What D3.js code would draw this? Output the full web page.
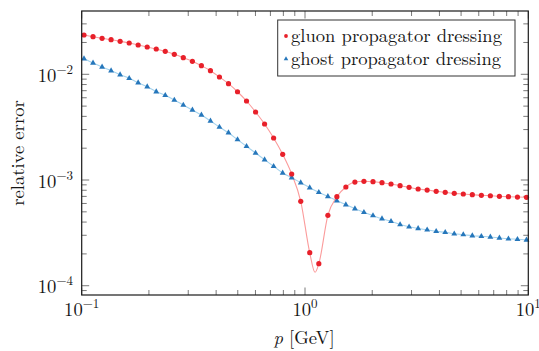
<!DOCTYPE html>
<html><head><meta charset="utf-8">
<script src="https://cdn.jsdelivr.net/npm/d3@7"></script>
<style>body{margin:0;background:#fff} svg{display:block}</style>
</head><body>
<svg id="c" width="539" height="351"></svg>
<script>
// ---- data ----
const momenta = [0.1024, 0.1124, 0.1234, 0.1354, 0.1486, 0.1632, 0.1790, 0.1965, 0.2157, 0.2367,
  0.2599, 0.2851, 0.3131, 0.3436, 0.3772, 0.4139, 0.4543, 0.4986, 0.5472, 0.6007,
  0.6592, 0.7236, 0.7943, 0.8717, 0.9570, 1.050, 1.153, 1.266, 1.389, 1.524,
  1.673, 1.836, 2.016, 2.212, 2.428, 2.666, 2.925, 3.211, 3.524, 3.868,
  4.246, 4.660, 5.115, 5.614, 6.163, 6.763, 7.422, 8.147, 8.942, 9.815];
const gluonError = [0.02354, 0.02269, 0.02191, 0.02125, 0.02052, 0.01977, 0.01893, 0.01812, 0.01735, 0.01651,
  0.01546, 0.01436, 0.01327, 0.01206, 0.01082, 0.00943, 0.00815, 0.00684, 0.005589, 0.004398,
  0.003387, 0.002496, 0.001750, 0.001140, 0.000629, 0.0002053, 0.0001615, 0.0004634, 0.000695, 0.000859,
  0.000957, 0.000972, 0.000964, 0.000943, 0.000917, 0.000884, 0.000853, 0.000822, 0.000804, 0.000782,
  0.000765, 0.000748, 0.000737, 0.000726, 0.000716, 0.000710, 0.000701, 0.000695, 0.000690, 0.000686];
const ghostError = [0.01405, 0.01279, 0.01173, 0.01082, 0.00991, 0.00917, 0.00833, 0.00763, 0.00684, 0.00633,
  0.00571, 0.00512, 0.00460, 0.00412, 0.00362, 0.00317, 0.00280, 0.00241, 0.00208, 0.00180,
  0.001557, 0.001348, 0.001165, 0.001051, 0.000943, 0.000846, 0.000765, 0.000698, 0.000637, 0.000584,
  0.000535, 0.000495, 0.000460, 0.000430, 0.000407, 0.000379, 0.000361, 0.000348, 0.000338, 0.000327,
  0.000320, 0.000310, 0.000304, 0.000297, 0.000293, 0.000289, 0.000283, 0.000278, 0.000275, 0.000271];
// minimum of the smooth gluon curve between the sampled points
const gluonDipMomenta = [1.109];
const gluonDipError = [0.000134];

const xTickValues = [0.1, 1, 10];
const xTickExponents = ["−1", "0", "1"];
const yTickValues = [1e-4, 1e-3, 1e-2];
const yTickExponents = ["−4", "−3", "−2"];
const seriesNames = ["gluon propagator dressing", "ghost propagator dressing"];
const yTitle = "relative error";

// ---- layout ----
const pL = 81.7, pR = 528.3, pT = 11, pB = 295;
const x = d3.scaleLog().domain([0.1, 10]).range([pL, pR]);
const y = d3.scaleLog().domain([8.17e-5, 0.0397]).range([pB, pT]);

const red = "#e8202a", redLine = "#fb9b9b";
const blue = "#2677bb", blueLine = "#a4d3ee";
const ink = "#151515";
const FAM = "'Latin Modern Roman', 'Liberation Serif', serif";

const svg = d3.select("#c");
const txt = sel => sel.style("font-family", FAM).attr("fill", ink);

// font size fitted so the legend text has the reference width
const probe = txt(svg.append("text")).attr("font-size", 20).text(seriesNames[0]);
const F = 20 * 211 / probe.node().getComputedTextLength();
probe.remove();

const isMajor = v => Math.abs(Math.log10(v) - Math.round(Math.log10(v))) < 1e-9;
const tl = v => isMajor(v) ? 7.5 : 5;

// ticks (inward, mirrored)
const tg = svg.append("g").attr("stroke", "#6a6a6a").attr("stroke-width", 0.9);
const xt = x.ticks(), yt = y.ticks();
tg.selectAll(".xb").data(xt).join("line")
  .attr("x1", d => x(d)).attr("x2", d => x(d)).attr("y1", pB).attr("y2", d => pB - tl(d));
tg.selectAll(".xt").data(xt).join("line")
  .attr("x1", d => x(d)).attr("x2", d => x(d)).attr("y1", pT).attr("y2", d => pT + tl(d));
tg.selectAll(".yl").data(yt).join("line")
  .attr("y1", d => y(d)).attr("y2", d => y(d)).attr("x1", pL).attr("x2", d => pL + tl(d));
tg.selectAll(".yr").data(yt).join("line")
  .attr("y1", d => y(d)).attr("y2", d => y(d)).attr("x1", pR).attr("x2", d => pR - tl(d));

// series
const pts = (ps, vs) => ps.map((p, i) => ({p, v: vs[i]}));
const gluon = pts(momenta, gluonError);
const ghost = pts(momenta, ghostError);
const gluonLine = gluon.concat(pts(gluonDipMomenta, gluonDipError)).sort((a, b) => a.p - b.p);
const line = d3.line().x(d => x(d.p)).y(d => y(d.v)).curve(d3.curveMonotoneX);

const pg = svg.append("g");
pg.append("path").datum(ghost).attr("d", line).attr("fill", "none").attr("stroke", blueLine).attr("stroke-width", 1.1);
pg.append("path").datum(gluonLine).attr("d", line).attr("fill", "none").attr("stroke", redLine).attr("stroke-width", 1.1);
const tri = d3.symbol().type(d3.symbolTriangle).size(15);
pg.selectAll(".gh").data(ghost).join("path")
  .attr("d", tri).attr("transform", d => `translate(${x(d.p)},${y(d.v)})`).attr("fill", blue);
pg.selectAll(".gl").data(gluon).join("circle")
  .attr("cx", d => x(d.p)).attr("cy", d => y(d.v)).attr("r", 2.6).attr("fill", red);

// frame
svg.append("rect").attr("x", pL).attr("y", pT).attr("width", pR - pL).attr("height", pB - pT)
  .attr("fill", "none").attr("stroke", "#1a1a1a").attr("stroke-width", 1.2);

// tick labels
const sup = 0.7 * F, rise = 0.42 * F;
const xl = svg.selectAll(".xlab").data(xTickValues).join("text").call(txt)
  .attr("x", d => x(d)).attr("y", pB + 21).attr("text-anchor", "middle").attr("font-size", F);
xl.append("tspan").text("10");
xl.append("tspan").attr("dy", -rise).attr("font-size", sup).text((d, i) => xTickExponents[i]);

const yl = svg.selectAll(".ylab").data(yTickValues).join("text").call(txt)
  .attr("x", 73).attr("y", d => y(d) + 7.5).attr("text-anchor", "end").attr("font-size", F);
yl.append("tspan").text("10");
yl.append("tspan").attr("dy", -rise).attr("font-size", sup).text((d, i) => yTickExponents[i]);

// axis titles
const xtitle = svg.append("text").call(txt).attr("x", (pL + pR) / 2 - 1).attr("y", 344)
  .attr("text-anchor", "middle").attr("font-size", F);
xtitle.append("tspan").attr("font-style", "italic").text("p");
xtitle.append("tspan").text(" [GeV]");
svg.append("text").call(txt).attr("transform", `translate(23.5,${(pT + pB) / 2}) rotate(-90)`)
  .attr("text-anchor", "middle").attr("font-size", F).text(yTitle);

// legend
const lg = svg.append("g");
lg.append("rect").attr("x", 277.7).attr("y", 20).attr("width", 237.3).attr("height", 56)
  .attr("fill", "#fff").attr("stroke", "#333").attr("stroke-width", 1);
lg.append("circle").attr("cx", 286).attr("cy", 36).attr("r", 1.9).attr("fill", red);
lg.append("path").attr("d", d3.symbol().type(d3.symbolTriangle).size(9))
  .attr("transform", "translate(286,59)").attr("fill", blue);
lg.selectAll(".lt").data(seriesNames).join("text").call(txt)
  .attr("x", 291).attr("y", (d, i) => [41.7, 65][i]).attr("font-size", F).text(d => d);
</script>
</body></html>
